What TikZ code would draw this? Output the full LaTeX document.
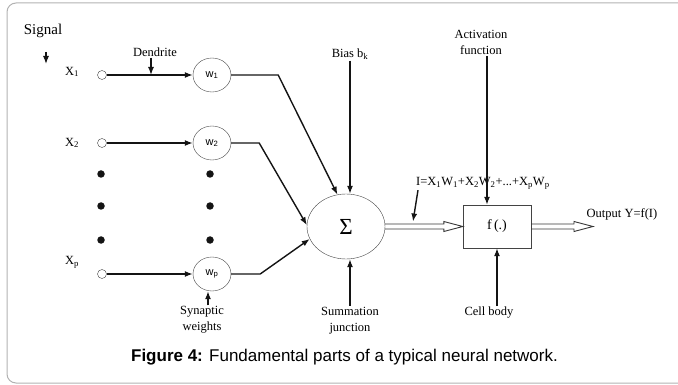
\documentclass[tikz,border=0pt]{standalone}
\usepackage{fontspec}
\setmainfont{Liberation Serif}
\newfontfamily\capfont{Liberation Sans}
\usetikzlibrary{arrows.meta, positioning, shapes.geometric}
\definecolor{Frame}{RGB}{178, 178, 178}
\definecolor{Ink}{RGB}{20, 20, 20}

\begin{document}
\begin{tikzpicture}[
    x=1pt, y=-1pt,
    lbl/.style={font=\fontsize{12.5}{16}\selectfont, align=center, inner sep=1pt},
    weight/.style={ellipse, draw=Ink!80, minimum width=38pt, minimum height=34pt, inner sep=0pt, font=\capfont\fontsize{11}{12}\selectfont},
    input/.style={circle, draw=Ink!80, minimum size=9pt, inner sep=0pt},
    dot/.style={circle, fill=Ink, minimum size=7.5pt, inner sep=0pt},
    wire/.style={draw=Ink, line width=1.4pt, -{Latex[length=8pt, width=6pt]}},
    hollow/.style={draw=Ink!85, line width=0.9pt}
]
\useasboundingbox (0,0) rectangle (678,385);

% Frame
\draw[Frame, line width=1pt, rounded corners=9pt] (7,3) rectangle (690,383);

% Inputs
\node[lbl, font=\fontsize{15}{18}\selectfont] (signal) at (43,31) {Signal};
\coordinate (sigtop) at (46,52);
\coordinate (sigbot) at (46,64);
\node[lbl] (x1) at (72,72) {X\textsubscript{1}};
\node[lbl] (x2) at (72,143) {X\textsubscript{2}};
\node[lbl] (xp) at (72,262) {X\textsubscript{p}};
\node[input] (in1) at (102,75) {};
\node[input] (in2) at (102,143) {};
\node[input] (inp) at (102,274) {};
\foreach \y [count=\i] in {174,206,240} {
  \node[dot] (da\i) at (101,\y) {};
  \node[dot] (db\i) at (210,\y) {};
}

% Weights
\node[weight] (w1) at (212,75) {w\textsubscript{1}};
\node[weight] (w2) at (212,143) {w\textsubscript{2}};
\node[weight] (wp) at (212,274) {w\textsubscript{p}};
\node[lbl] (dendrite) at (155,52) {Dendrite};
\node[lbl] (synlbl) at (202,320) {Synaptic\\weights};

% Summation and cell body
\node[ellipse, draw=Ink!80, minimum width=78pt, minimum height=65pt, inner sep=0pt, font=\fontsize{23}{24}\selectfont] (sum) at (346,226.5) {Σ};
\node[lbl] (bias) at (350,54) {Bias b\textsubscript{k}};
\node[lbl] (sumlbl) at (350,320.5) {Summation\\junction};
\node[draw=Ink!80, minimum width=68pt, minimum height=43pt, inner sep=0pt, font=\fontsize{14}{16}\selectfont] (f) at (497,226.5) {f\,(.)};
\node[lbl] (act) at (481,42.5) {Activation\\function};
\node[lbl] (cell) at (489,313) {Cell body};
\node[lbl, anchor=west] (ieq) at (415,183) {I=X\textsubscript{1}W\textsubscript{1}+X\textsubscript{2}W\textsubscript{2}+...+X\textsubscript{p}W\textsubscript{p}};
\coordinate (itip) at (413,221.5);
\coordinate (out) at (593,226.5);
\node[lbl] (outlbl) at (622,214) {Output Y=f(I)};

% Connectors
\draw[wire, line width=1.1pt] (sigtop) -- (sigbot);
\draw[wire] (in1) -- (w1);
\draw[wire] (in2) -- (w2);
\draw[wire] (inp) -- (wp);
\draw[wire] ([xshift=-4pt]dendrite.south) -- ([xshift=-4pt]dendrite.south |- in1);
\draw[wire] ([xshift=6pt]synlbl.north) -- ([xshift=6pt]synlbl.north |- wp.south);
\draw[wire] (w1.east) -- ++(47,0) -- (sum.105);
\draw[wire] (w2.east) -- ++(28,0) -- (sum.178);
\draw[wire] (wp.east) -- ++(29,0) -- (sum.199);
\draw[wire] (bias.south) -- (bias.south |- sum.north);
\draw[wire] (sumlbl.north) -- (sumlbl.north |- sum.south);
\draw[wire] ([xshift=6pt]act.south) -- ([xshift=6pt]act.south |- f.north);
\draw[wire] (cell.north -| f.south) -- (f.south);
\draw[wire] ([xshift=3pt]ieq.south west) -- (itip);

% Hollow arrows
\draw[hollow] ([yshift=2.5pt]sum.east) -- ([shift={(-19pt,2.5pt)}]f.west) -- ([shift={(-19pt,5pt)}]f.west) -- (f.west)
  -- ([shift={(-19pt,-5pt)}]f.west) -- ([shift={(-19pt,-2.5pt)}]f.west) -- ([yshift=-2.5pt]sum.east);
\draw[hollow] ([yshift=2.5pt]f.east) -- ([shift={(-19pt,2.5pt)}]out) -- ([shift={(-19pt,5pt)}]out) -- (out)
  -- ([shift={(-19pt,-5pt)}]out) -- ([shift={(-19pt,-2.5pt)}]out) -- ([yshift=-2.5pt]f.east);

% Caption
\node[font=\capfont\fontsize{17}{20}\selectfont] (caption) at (344.5,357) {\textbf{Figure 4:} Fundamental parts of a typical neural network.};

\end{tikzpicture}
\end{document}
